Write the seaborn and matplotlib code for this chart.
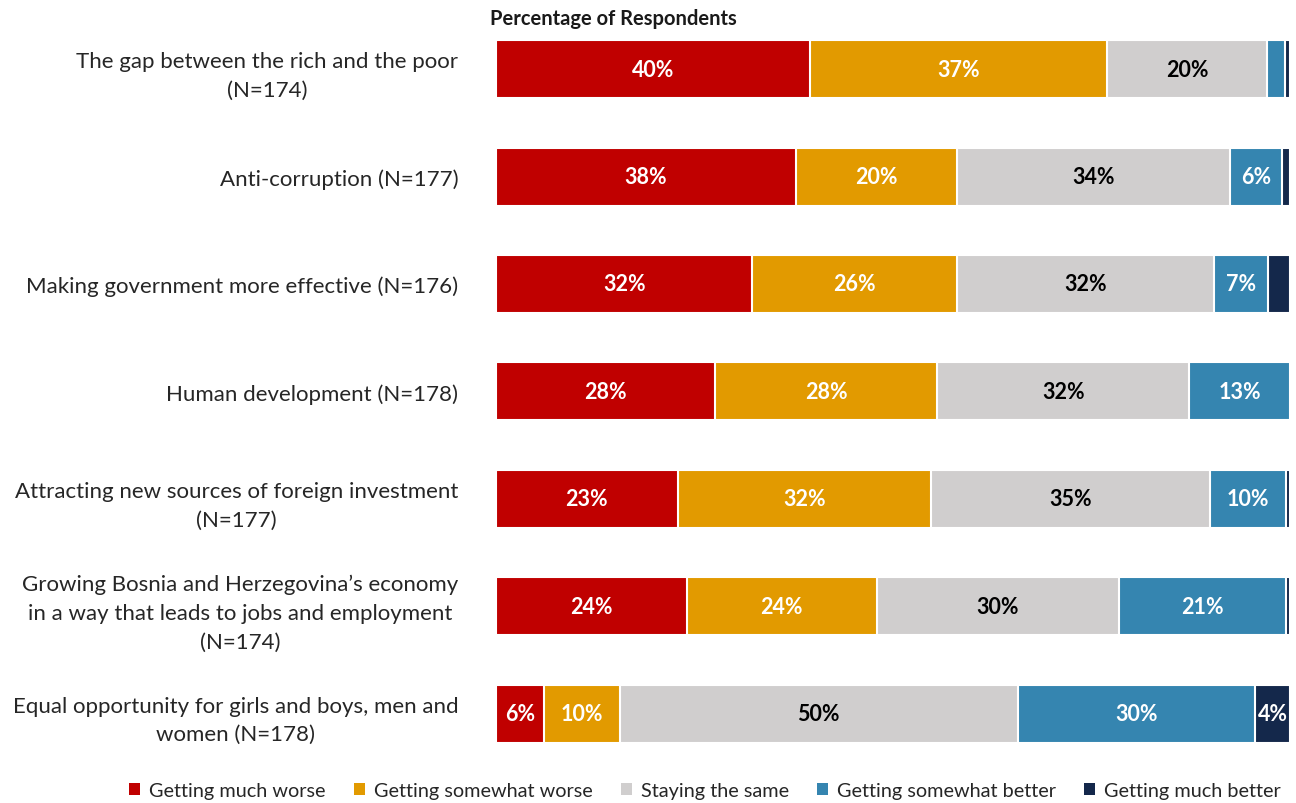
import matplotlib
matplotlib.use("Agg")
import matplotlib.pyplot as plt
import seaborn as sns
import pandas as pd
import numpy as np

categories = [
    "The gap between the rich and the poor\n(N=174)",
    "Anti-corruption (N=177)",
    "Making government more effective (N=176)",
    "Human development (N=178)",
    "Attracting new sources of foreign investment\n(N=177)",
    "Growing Bosnia and Herzegovina\u2019s economy\nin a way that leads to jobs and employment\n(N=174)",
    "Equal opportunity for girls and boys, men and\nwomen (N=178)",
]
series_names = ["Getting much worse", "Getting somewhat worse", "Staying the same",
                "Getting somewhat better", "Getting much better"]
much_worse = [39.6, 37.8, 32.3, 27.6, 22.9, 24.0, 6.0]
somewhat_worse = [37.4, 20.3, 25.7, 28.0, 31.9, 24.0, 9.6]
same = [20.1, 34.4, 32.4, 31.7, 35.1, 30.4, 50.1]
somewhat_better = [2.3, 6.5, 6.8, 12.7, 9.6, 21.1, 29.9]
much_better = [0.6, 1.0, 2.8, 0.0, 0.5, 0.5, 4.4]
colors = ["#C00000", "#E29A00", "#D0CECE", "#3585B0", "#14284B"]
label_colors = ["white", "white", "black", "white", "white"]

sns.set_theme(style="white")
plt.rcParams["font.family"] = ["Lato", "DejaVu Sans"]

series = [much_worse, somewhat_worse, same, somewhat_better, much_better]
vals = np.array(series)
cum = np.cumsum(vals, axis=0)

fig = plt.figure(figsize=(12.96, 8.04), dpi=100)
ax = fig.add_axes([0.3827, 0.0445, 0.6127, 0.9351])

# draw layers from the largest cumulative (rightmost) to smallest
for i in range(len(series) - 1, -1, -1):
    df = pd.DataFrame({"cat": categories, "cum": cum[i]})
    sns.barplot(data=df, x="cum", y="cat", orient="h", color=colors[i],
                width=0.54, edgecolor="white", linewidth=1.5, ax=ax,
                saturation=1)

for i in range(len(series)):
    for j in range(len(categories)):
        v = vals[i, j]
        if v >= 3.5:
            ax.text(cum[i, j] - v / 2, j, f"{int(round(v))}%", ha="center", va="center",
                    color=label_colors[i], fontsize=15.5, fontweight="bold")

ax.set_xlim(0, 100)
ax.set_ylim(6.5, -0.5)
ax.set_xlabel("")
ax.set_ylabel("")
ax.set_xticks([])
for s in ax.spines.values():
    s.set_visible(False)
ax.tick_params(axis="y", length=0, pad=27, labelsize=16)
for t in ax.get_yticklabels():
    t.set_multialignment("center")
    t.set_linespacing(1.55)
    t.set_color("#262626")

fig.text(0.378, 0.976, "Percentage of Respondents", fontsize=14.5, fontweight="bold",
         ha="left", va="center", color="#1a1a1a")

from matplotlib.patches import Patch
handles = [Patch(facecolor=c, edgecolor="none") for c in colors]
fig.legend(handles, series_names, loc="center", bbox_to_anchor=(0.544, 0.015), ncol=5,
           frameon=False, fontsize=14.3, handlelength=0.55, handleheight=0.55,
           handletextpad=0.45, columnspacing=1.42, labelcolor="#262626")

fig.savefig("out.png", dpi=100)
